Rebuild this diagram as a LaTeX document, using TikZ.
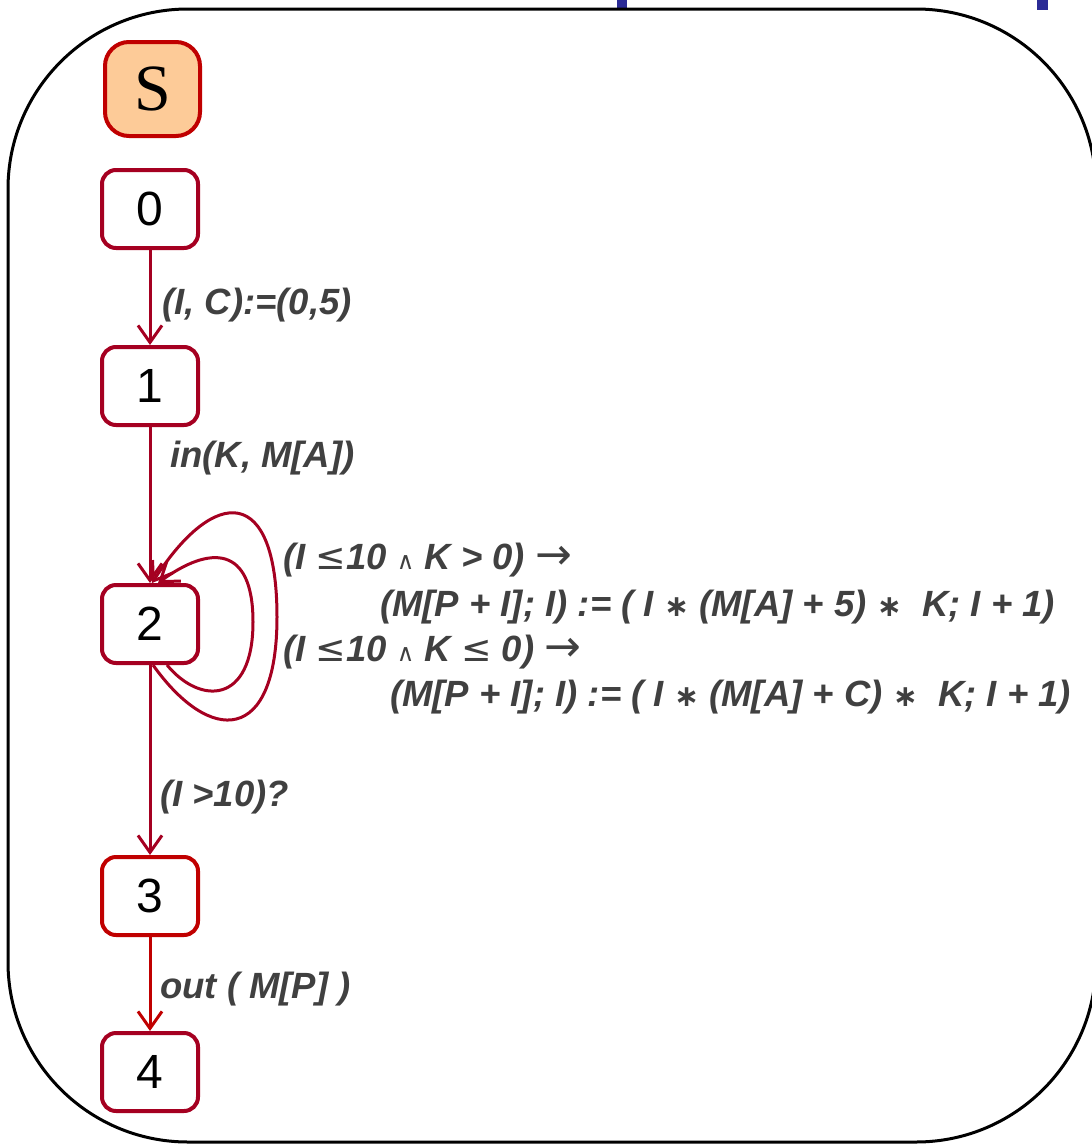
\documentclass[tikz,border=0pt]{standalone}
\usepackage{fontspec}
\setmainfont{Liberation Sans}
\newfontfamily\serifS{Liberation Serif}
\newfontfamily\symf{DejaVu Sans}
\usetikzlibrary{arrows.meta,calc}
\definecolor{dred}{HTML}{A50021}
\definecolor{bred}{HTML}{C00000}
\definecolor{sfill}{HTML}{FDCB98}
\definecolor{lblgray}{HTML}{404040}
\definecolor{tblue}{HTML}{2B2B96}
\newcommand\Sle{{\symf\mdseries\upshape ≤}}
\newcommand\Sand{{\symf\mdseries\upshape\fontsize{24}{24}\selectfont ∧}}
\newcommand\Sto{{\symf\mdseries\upshape\fontsize{44}{44}\selectfont →}}
\newcommand\Sast{{\symf\upshape\fontsize{30}{30}\selectfont ∗}}
\begin{document}
\begin{tikzpicture}[x=1pt,y=-1pt,
  state/.style={draw=dred, line width=4pt, rounded corners=14pt, fill=white,
    minimum width=96pt, minimum height=78pt, inner sep=0pt,
    font=\fontsize{48}{48}\selectfont},
  trans/.style={draw=dred, line width=3pt,
    -{Straight Barb[length=17pt,width=24pt]}},
  lbl/.style={anchor=base west, inner sep=0pt, text=lblgray,
    font=\fontsize{36.5}{36.5}\selectfont\bfseries\itshape}
]
\useasboundingbox (0,0) rectangle (1092,1144);
% blue fragments at top
\fill[tblue] (617,0) rectangle (627,9);
\fill[tblue] (1037,0) rectangle (1048,10);
% frame
\draw[line width=3pt, rounded corners=180pt] (8,9) rectangle (1096,1142);

% states
\node[draw=bred, fill=sfill, line width=4pt, rounded corners=24pt,
  minimum width=95pt, minimum height=94pt, inner sep=0pt,
  font=\serifS\fontsize{66}{66}\selectfont] (s) at (152.5,89) {S};
\node[state] (n0) at (150,209) {0};
\node[state] (n1) at (150,386) {1};
\node[state] (n2) at (150,624) {2};
\node[state, draw=bred] (n3) at (150,896) {3};
\node[state] (n4) at (150,1072) {4};

% transitions
\draw[trans] (n0) -- (n1);
\draw[trans] (n1) -- (n2);
\draw[trans] (n2) -- (n3);
\draw[trans, draw=bred] (n3) -- (n4);

% self loops
\draw[trans] ([xshift=3pt]n2.south)
  .. controls ($(n2.center)+(60,121)$) and ($(n2.center)+(127,121)$) .. ($(n2.center)+(127,-7)$)
  .. controls ($(n2.center)+(127,-139)$) and ($(n2.center)+(65,-139)$) .. ([xshift=2pt]n2.north);
\draw[trans] ([xshift=17pt]n2.south)
  .. controls ($(n2.center)+(50,81)$) and ($(n2.center)+(103,81)$) .. ($(n2.center)+(103,-2)$)
  .. controls ($(n2.center)+(103,-79)$) and ($(n2.center)+(60,-79)$) .. ([xshift=8pt]n2.north);

% labels
\node[lbl] (l01) at (162,314) {(I, C):=(0,5)};
\node[lbl] (l12) at (170,467) {in(K, M[A])};
\node[lbl] (l23) at (160,806) {(I >10)?};
\node[lbl] (l34) at (160,998) {out ( M[P] )};
\node[lbl] (g1) at (283,569) {(I \Sle10 \Sand\ K > 0) \Sto};
\node[lbl] (a1) at (380,616) {(M[P + I]; I) := ( I \Sast\ (M[A] + 5) \Sast\ \ K; I + 1)};
\node[lbl] (g2) at (283,661) {(I \Sle10 \Sand\ K \Sle\ 0) \Sto};
\node[lbl] (a2) at (390,706) {(M[P + I]; I) := ( I \Sast\ (M[A] + C) \Sast\ \ K; I + 1)};
\end{tikzpicture}
\end{document}
